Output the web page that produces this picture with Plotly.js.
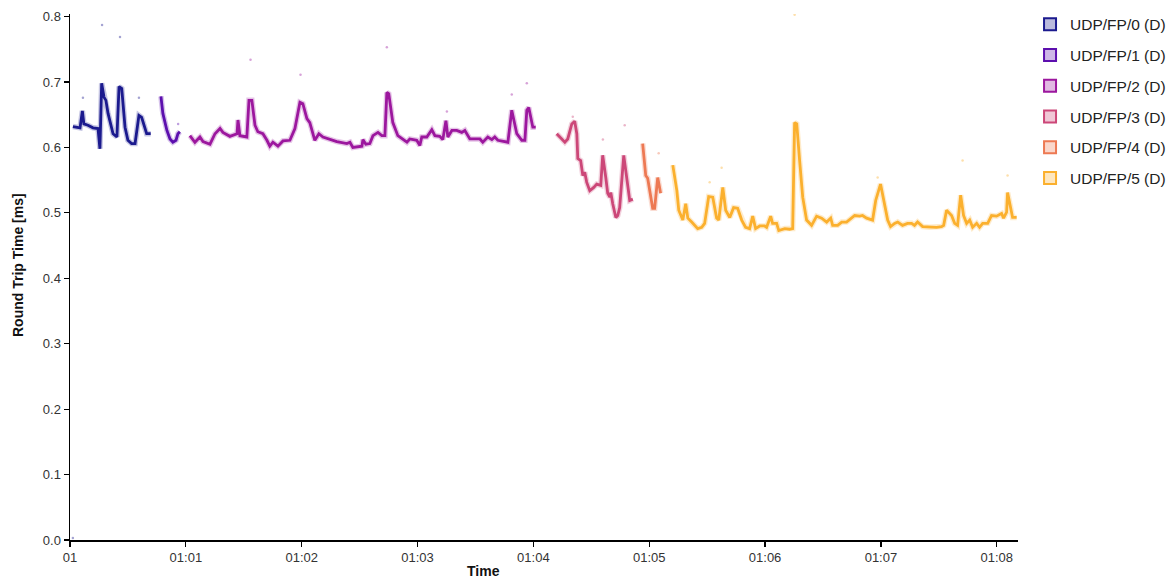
<!DOCTYPE html>
<html>
<head>
<meta charset="utf-8">
<script src="https://cdn.plot.ly/plotly-3.0.1.min.js"></script>
<style>html,body{margin:0;padding:0;background:#fff}#chart{width:1173px;height:581px}</style>
</head>
<body>
<div id="chart"></div>
<script>
// ---- data (time in seconds from 01:00, RTT in ms) ----
const seriesNames = ["UDP/FP/0 (D)", "UDP/FP/1 (D)", "UDP/FP/2 (D)", "UDP/FP/3 (D)", "UDP/FP/4 (D)", "UDP/FP/5 (D)"];
const seriesColors = ["#1b1a8e", "#5c0fae", "#9c179e", "#cc4778", "#ed7953", "#fbb02e"];

const fp0_t = [1.5, 3.1, 5.2, 6.4, 7.2, 9.3, 11.9, 14.5, 15.5, 16.4, 17.6, 18.6, 19.7, 22.3, 24.3, 25.4, 26.8, 28.5, 30.0, 31.9, 33.7, 35.7, 37.1, 39.7, 41.8];
const fp0_rtt = [0.632, 0.631, 0.630, 0.656, 0.636, 0.634, 0.630, 0.629, 0.598, 0.698, 0.677, 0.672, 0.652, 0.621, 0.616, 0.693, 0.690, 0.631, 0.611, 0.606, 0.606, 0.649, 0.646, 0.621, 0.621];

const fp1_t = [47.1, 48.1, 50.2, 51.8, 53.3, 54.9, 55.9, 56.9];
const fp1_rtt = [0.678, 0.652, 0.626, 0.613, 0.608, 0.611, 0.621, 0.624];

const fp2_t = [62.1, 64.7, 67.3, 68.9, 72.5, 75.1, 77.7, 79.2, 82.8, 86.5, 87.0, 88.0, 91.6, 92.7, 94.2, 95.8, 97.3, 99.9, 102.0, 103.5, 105.1, 107.7, 110.3, 113.9, 116.5, 119.1, 120.6, 122.7, 124.2, 126.8, 128.9, 131.0, 138.2, 143.4, 145.0, 146.5, 151.2, 151.7, 153.2, 155.3, 156.9, 159.5, 161.5, 163.1, 164.1, 165.1, 167.2, 169.8, 174.5, 176.0, 179.6, 181.2, 182.2, 184.8, 187.4, 189.0, 191.5, 193.1, 194.7, 195.7, 197.8, 200.3, 202.9, 204.5, 207.1, 212.3, 213.8, 216.4, 218.5, 220.0, 221.6, 226.8, 228.8, 231.4, 234.0, 235.6, 236.6, 237.6, 239.7, 241.2];
const fp2_rtt = [0.618, 0.608, 0.616, 0.609, 0.605, 0.621, 0.629, 0.623, 0.617, 0.621, 0.642, 0.618, 0.616, 0.672, 0.672, 0.634, 0.624, 0.621, 0.611, 0.602, 0.608, 0.602, 0.610, 0.611, 0.629, 0.669, 0.667, 0.644, 0.638, 0.611, 0.621, 0.616, 0.609, 0.606, 0.608, 0.600, 0.602, 0.612, 0.605, 0.606, 0.618, 0.623, 0.618, 0.618, 0.684, 0.682, 0.638, 0.618, 0.608, 0.613, 0.611, 0.603, 0.616, 0.616, 0.627, 0.618, 0.617, 0.612, 0.641, 0.616, 0.626, 0.626, 0.623, 0.626, 0.613, 0.613, 0.608, 0.616, 0.612, 0.616, 0.611, 0.608, 0.657, 0.621, 0.611, 0.611, 0.657, 0.661, 0.631, 0.631];

const fp3_t = [252.1, 253.7, 256.3, 257.8, 259.9, 261.4, 262.5, 263.0, 264.5, 265.6, 266.6, 267.6, 269.2, 271.3, 272.8, 274.9, 275.9, 277.5, 278.5, 279.6, 280.1, 281.1, 282.7, 283.7, 284.7, 286.8, 287.8, 288.9, 289.9, 291.5];
const fp3_rtt = [0.621, 0.616, 0.608, 0.613, 0.636, 0.640, 0.621, 0.583, 0.580, 0.557, 0.562, 0.547, 0.534, 0.539, 0.544, 0.542, 0.588, 0.554, 0.530, 0.524, 0.531, 0.514, 0.493, 0.496, 0.508, 0.588, 0.568, 0.539, 0.519, 0.521];

const fp4_t = [296.6, 298.2, 299.2, 300.3, 301.8, 302.8, 303.9, 304.4, 305.9];
const fp4_rtt = [0.606, 0.557, 0.553, 0.531, 0.507, 0.507, 0.534, 0.554, 0.530];

const fp5_t = [312.2, 314.3, 315.3, 317.4, 318.9, 320.0, 322.0, 323.6, 325.1, 327.2, 328.7, 330.8, 332.9, 334.9, 336.0, 338.1, 339.6, 341.7, 343.7, 345.8, 347.9, 349.9, 352.0, 353.6, 355.1, 357.2, 359.8, 360.8, 362.9, 363.9, 366.0, 367.1, 370.2, 372.7, 374.3, 375.3, 376.4, 377.9, 379.5, 381.5, 384.1, 386.7, 389.3, 391.9, 394.0, 395.0, 397.6, 399.7, 402.2, 406.4, 409.0, 410.5, 412.6, 415.7, 417.3, 419.8, 421.4, 423.5, 425.0, 427.1, 428.7, 431.2, 433.8, 435.9, 437.4, 439.0, 441.6, 445.2, 448.8, 451.4, 452.5, 454.0, 456.6, 458.2, 459.7, 461.3, 462.8, 464.4, 466.0, 467.5, 469.6, 471.1, 472.7, 475.3, 477.3, 479.9, 482.5, 483.5, 485.1, 485.6, 487.2, 488.2, 490.3];
const fp5_rtt = [0.573, 0.534, 0.504, 0.489, 0.514, 0.492, 0.486, 0.481, 0.476, 0.478, 0.484, 0.525, 0.524, 0.492, 0.489, 0.539, 0.504, 0.493, 0.508, 0.507, 0.489, 0.478, 0.476, 0.495, 0.476, 0.480, 0.480, 0.478, 0.495, 0.484, 0.484, 0.473, 0.476, 0.475, 0.476, 0.638, 0.636, 0.580, 0.524, 0.489, 0.481, 0.495, 0.492, 0.486, 0.492, 0.481, 0.481, 0.486, 0.486, 0.496, 0.495, 0.496, 0.492, 0.489, 0.519, 0.544, 0.519, 0.489, 0.479, 0.484, 0.486, 0.481, 0.484, 0.484, 0.481, 0.486, 0.479, 0.478, 0.478, 0.479, 0.481, 0.504, 0.496, 0.484, 0.481, 0.527, 0.496, 0.484, 0.489, 0.478, 0.484, 0.478, 0.484, 0.484, 0.496, 0.495, 0.499, 0.492, 0.501, 0.531, 0.508, 0.493, 0.493];

// individual outlying samples (faint dots)
const fp0_dot_t = [1.5, 6.7, 16.6, 25.9, 35.7];
const fp0_dot_rtt = [0.003, 0.676, 0.787, 0.769, 0.676];
const fp1_dot_t = [56.0];
const fp1_dot_rtt = [0.636];
const fp2_dot_t = [93.5, 119.4, 164.1, 195.2, 228.8, 236.6];
const fp2_dot_rtt = [0.734, 0.711, 0.753, 0.655, 0.681, 0.698];
const fp3_dot_t = [260.4, 287.3, 276.0];
const fp3_dot_rtt = [0.647, 0.634, 0.612];
const fp4_dot_t = [304.9];
const fp4_dot_rtt = [0.591];
const fp5_dot_t = [375.3, 462.3, 485.6, 418.3, 337.5, 331.3];
const fp5_dot_rtt = [0.803, 0.580, 0.557, 0.554, 0.569, 0.547];

const tickSeconds = [0, 60, 120, 180, 240, 300, 360, 420, 480];
const tickLabels = ["01", "01:01", "01:02", "01:03", "01:04", "01:05", "01:06", "01:07", "01:08"];
const yTicks = [0, 0.1, 0.2, 0.3, 0.4, 0.5, 0.6, 0.7, 0.8];
const xTitle = "Time";
const yTitle = "Round Trip Time [ms]";

// ---- build traces ----
const lines = [[fp0_t, fp0_rtt], [fp1_t, fp1_rtt], [fp2_t, fp2_rtt], [fp3_t, fp3_rtt], [fp4_t, fp4_rtt], [fp5_t, fp5_rtt]];
const dots = [[fp0_dot_t, fp0_dot_rtt], [fp1_dot_t, fp1_dot_rtt], [fp2_dot_t, fp2_dot_rtt], [fp3_dot_t, fp3_dot_rtt], [fp4_dot_t, fp4_dot_rtt], [fp5_dot_t, fp5_dot_rtt]];

function hexA(hex, a) {
  const r = parseInt(hex.slice(1, 3), 16), g = parseInt(hex.slice(3, 5), 16), b = parseInt(hex.slice(5, 7), 16);
  return `rgba(${r},${g},${b},${a})`;
}

const traces = [];
lines.forEach((s, i) => {
  traces.push({x: dots[i][0], y: dots[i][1], type: 'scatter', mode: 'markers', showlegend: false, hoverinfo: 'skip',
    marker: {size: 2.5, color: hexA(seriesColors[i], 0.4)}});
  traces.push({x: s[0], y: s[1], type: 'scatter', mode: 'lines', showlegend: false, hoverinfo: 'skip',
    line: {color: hexA(seriesColors[i], 0.25), width: 5.5, shape: 'linear'}});
  traces.push({x: s[0], y: s[1], type: 'scatter', mode: 'lines', showlegend: false, name: seriesNames[i],
    line: {color: seriesColors[i], width: 2.8, shape: 'linear'}});
});
// legend entries
seriesNames.forEach((n, i) => {
  traces.push({x: [null], y: [null], type: 'scatter', mode: 'markers', name: n, legendgroup: 'g' + i, showlegend: true,
    marker: {symbol: 'square', size: 12, color: hexA(seriesColors[i], 0.3), line: {color: seriesColors[i], width: 2}}});
});

const FONT = 'Liberation Sans, Arial, Helvetica, sans-serif';
const axisCommon = {
  showline: true, linecolor: '#000', linewidth: 1.5, ticks: 'outside', ticklen: 5, tickwidth: 1.2, tickcolor: '#000',
  showgrid: false, zeroline: false, tickfont: {family: FONT, size: 13, color: '#333'}
};

const layout = {
  width: 1173, height: 581,
  margin: {l: 70, r: 155, t: 14, b: 41, autoexpand: false},
  paper_bgcolor: '#fff', plot_bgcolor: '#fff',
  font: {family: FONT, color: '#222'},
  xaxis: Object.assign({}, axisCommon, {
    range: [0, 491], tickmode: 'array', tickvals: tickSeconds, ticktext: tickLabels
  }),
  yaxis: Object.assign({}, axisCommon, {
    range: [0, 0.804], tickmode: 'array', tickvals: yTicks, ticktext: yTicks.map(v => v.toFixed(1))
  }),
  annotations: [
    {text: '<b>' + xTitle + '</b>', xref: 'paper', yref: 'paper', x: (483 - 70) / 948, y: 0, yshift: -31,
     xanchor: 'center', yanchor: 'middle', showarrow: false, font: {family: FONT, size: 14, color: '#111'}},
    {text: '<b>' + yTitle + '</b>', xref: 'paper', yref: 'paper', x: 0, xshift: -52, y: (540 - 265) / 526,
     xanchor: 'center', yanchor: 'middle', textangle: -90, showarrow: false, font: {family: FONT, size: 14, color: '#111'}}
  ],
  legend: {x: 1.0127, xanchor: 'left', y: 1.012, yanchor: 'top', font: {family: FONT, size: 15.5, color: '#222'},
    tracegroupgap: 7.6, bgcolor: 'rgba(0,0,0,0)', itemwidth: 30},
  showlegend: true
};

Plotly.newPlot('chart', traces, layout, {displayModeBar: false, staticPlot: true});
</script>
</body>
</html>
